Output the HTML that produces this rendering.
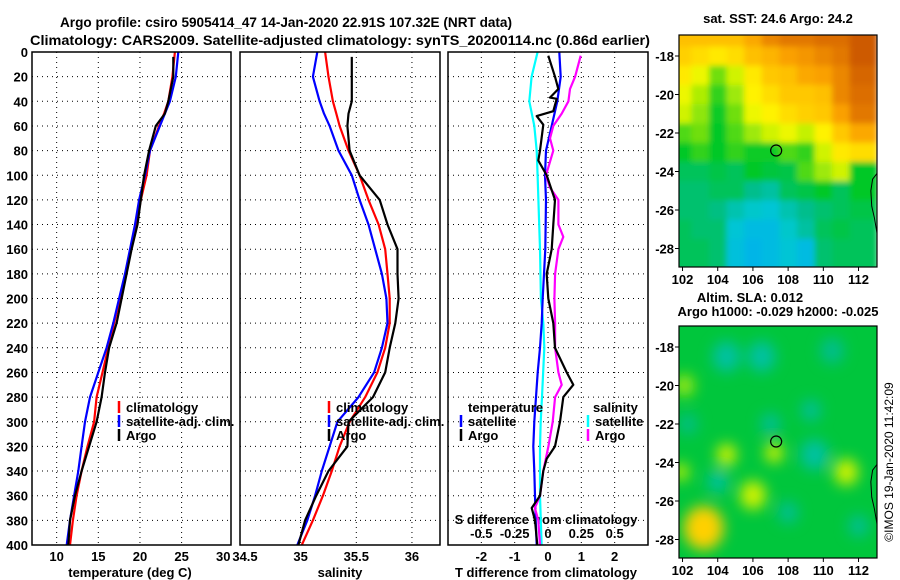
<!DOCTYPE html>
<html><head><meta charset="utf-8">
<style>
html,body{margin:0;padding:0;background:#fff;}
svg{display:block;font-family:"Liberation Sans",Arial,sans-serif;font-weight:bold;}
</style></head>
<body>
<svg id="chart" width="900" height="580" viewBox="0 0 900 580" xmlns="http://www.w3.org/2000/svg">
<defs>
<clipPath id="c1"><rect x="32" y="52" width="199" height="493"/></clipPath>
<clipPath id="c2"><rect x="240" y="52" width="200" height="493"/></clipPath>
<clipPath id="c3"><rect x="448" y="52" width="200" height="493"/></clipPath>
<clipPath id="m1"><rect x="679" y="35" width="198" height="232"/></clipPath>
<clipPath id="m2"><rect x="679" y="326" width="198" height="232"/></clipPath>
<filter id="blur" x="-20%" y="-20%" width="140%" height="140%"><feGaussianBlur stdDeviation="7"/></filter>
<filter id="blur2" x="-5%" y="-5%" width="110%" height="110%"><feGaussianBlur stdDeviation="3"/></filter>
</defs>
<text x="286" y="27" text-anchor="middle" font-size="14" textLength="452" lengthAdjust="spacingAndGlyphs">Argo profile: csiro 5905414_47 14-Jan-2020 22.91S 107.32E (NRT data)</text>
<text x="340" y="45" text-anchor="middle" font-size="14" textLength="620" lengthAdjust="spacingAndGlyphs">Climatology: CARS2009. Satellite-adjusted climatology: synTS_20200114.nc (0.86d earlier)</text>
<g id="g"></g>
</svg>
<script>
// ---- profile data ----
const depths = [0,20,40,50,60,80,100,120,140,160,180,200,220,240,260,280,300,320,340,360,380,400];
const argoDepths = [4,20,40,50,60,80,100,120,140,160,180,200,220,240,260,280,300,320,340,360,380,400];
const tempClim = [24.2,23.9,23.4,22.9,22.3,21.2,20.8,20.1,19.6,18.9,18.3,17.6,16.9,16.2,15.5,14.8,14.5,13.7,13.0,12.4,11.95,11.6];
const tempSat  = [24.6,24.3,23.6,23.0,22.4,21.2,20.6,19.9,19.4,18.8,18.2,17.5,16.8,16.0,15.0,14.0,13.4,13.0,12.6,12.1,11.6,11.2];
const tempArgo = [24.0,24.0,23.4,23.0,21.9,21.1,20.5,20.1,19.7,19.0,18.4,17.8,17.2,16.3,15.8,15.4,14.8,13.9,13.0,12.2,11.6,11.4];
const salClim = [35.22,35.25,35.29,35.32,35.35,35.43,35.53,35.61,35.70,35.76,35.78,35.80,35.80,35.76,35.69,35.58,35.44,35.35,35.28,35.20,35.11,35.01];
const salSat  = [35.15,35.11,35.17,35.21,35.26,35.34,35.46,35.53,35.61,35.67,35.73,35.77,35.78,35.73,35.66,35.52,35.33,35.26,35.19,35.13,35.06,34.97];
const salArgo = [35.46,35.46,35.46,35.43,35.42,35.44,35.53,35.71,35.78,35.87,35.87,35.88,35.85,35.80,35.76,35.65,35.43,35.42,35.25,35.14,35.04,34.98];
// ---- difference data ----
const dTSatDepths = [0,20,40,60,80,100,120,160,200,220,240,260,280,300,320,340,360,380,400];
const dTSat = [0.34,0.38,0.28,0.11,-0.06,-0.09,-0.06,-0.08,-0.16,-0.19,-0.24,-0.31,-0.36,-0.41,-0.44,-0.41,-0.39,-0.37,-0.34];
const dTArgoDepths = [3,20,30,37,38,48,52,59,80,88,100,120,140,160,180,200,220,240,260,270,280,300,320,330,340,360,370,380,400];
const dTArgo = [0.01,0.21,0.31,0.06,0.26,0.16,-0.34,-0.14,-0.24,-0.29,-0.04,0.21,0.16,0.11,-0.04,0.01,0.16,0.21,0.56,0.76,0.46,0.36,0.21,-0.04,-0.14,-0.24,-0.49,-0.39,-0.32];
const dSSatDepths = [0,20,40,60,80,100,160,200,220,240,280,300,320,360,400];
const dSSat = [-0.078,-0.123,-0.14,-0.103,-0.085,-0.078,-0.06,-0.053,-0.035,-0.028,-0.045,-0.055,-0.06,-0.06,-0.048];
const dSArgoDepths = [3,20,30,40,50,60,70,80,100,110,120,140,150,160,180,200,220,240,260,270,280,300,320,340,360,370,380,400];
const dSArgo = [0.245,0.203,0.165,0.153,0.103,0.04,0.015,0.04,-0.015,0.015,0.078,0.078,0.115,0.078,0.053,0.048,0.053,0.053,0.078,0.103,0.053,0.035,0.003,-0.035,-0.06,-0.098,-0.073,-0.06];
// ---- ticks ----
const depthTicks = [0,20,40,60,80,100,120,140,160,180,200,220,240,260,280,300,320,340,360,380,400];
const tempTicks = [10,15,20,25,30];
const salTicks = [34.5,35,35.5,36];
const salTickLabels = ["34.5","35","35.5","36"];
const dTTicks = [-2,-1,0,1,2];
const dSTicks = [-0.5,-0.25,0,0.25,0.5];
const dSTickLabels = ["-0.5","-0.25","0","0.25","0.5"];
const lonTicks = [102,104,106,108,110,112];
const latTicks = [-18,-20,-22,-24,-26,-28];
// ---- map data (normalised colour value 0..1), rows lat -17..-29, cols lon 102..112 ----
const sstLats = [-17,-18,-19,-20,-21,-22,-23,-24,-25,-26,-27,-28,-29];
const sstLons = [102,103,104,105,106,107,108,109,110,111,112];
const sstGrid = [
[.72,.72,.72,.72,.78,.85,.88,.88,.9,.9,.95],
[.68,.65,.62,.65,.72,.75,.8,.82,.85,.88,.95],
[.62,.55,.42,.5,.62,.7,.72,.78,.8,.85,.92],
[.55,.46,.38,.45,.6,.65,.7,.7,.72,.85,.9],
[.5,.44,.36,.42,.55,.6,.65,.68,.7,.8,.88],
[.4,.42,.35,.4,.45,.5,.55,.48,.6,.7,.78],
[.35,.38,.35,.38,.36,.36,.4,.38,.5,.62,.65],
[.3,.3,.32,.3,.35,.33,.32,.4,.45,.5,.35],
[.28,.28,.3,.3,.25,.22,.3,.32,.35,.3,.35],
[.28,.28,.26,.2,.16,.14,.2,.25,.28,.3,.32],
[.3,.28,.28,.14,.1,.1,.16,.22,.3,.32,.3],
[.3,.3,.28,.12,.08,.1,.14,.1,.28,.3,.3],
[.3,.3,.28,.12,.08,.1,.14,.1,.28,.3,.3]];
const slaBlobLon = [103.2,102.1,104.5,106.0,107.2,111.3,101.9,104.5,106.5,107.0,109.5,109.3,104.0,112.0,108.0,110.5,102.3];
const slaBlobLat = [-27.4,-20.0,-23.6,-25.7,-23.5,-24.5,-24.5,-18.5,-18.5,-22.0,-23.6,-21.3,-25.0,-27.3,-26.6,-18.2,-22.0];
const slaBlobVal = [0.68,0.45,0.5,0.5,0.5,0.5,0.47,0.22,0.22,0.24,0.22,0.24,0.22,0.24,0.24,0.25,0.26];
const slaBlobRad = [20,10,10,13,9,12,8,14,14,10,14,10,10,10,10,12,10];
const floatLon = 107.32, floatLat = -22.91;

const NS = "http://www.w3.org/2000/svg";
const G = document.getElementById('g');
function el(tag, attrs, parent) {
  const e = document.createElementNS(NS, tag);
  for (const k in attrs) e.setAttribute(k, attrs[k]);
  (parent || G).appendChild(e);
  return e;
}
const yD = d => 52 + d * 1.2325;
const xT = t => 32 + (t - 7.04) * 8.33;
const xS = s => 245 + (s - 34.5) * 111.3;
const xdT = v => 548 + v * 33.33;
const xdS = v => 548 + v * 133.3;
const lonX = lon => 679 + (lon - 101.8) * 17.6;
const latY = (lat, off) => off + 56 + (-18 - lat) * 19.25;

function txt(x, y, s, size, anchor, name) {
  const t = el('text', {x: x, y: y, 'font-size': size, 'text-anchor': anchor || 'middle'});
  t.textContent = s;
  
  
  return t;
}

const panels = [
  {x0: 32, x1: 231, clip: 'c1', name: 'temperature'},
  {x0: 240, x1: 440, clip: 'c2', name: 'salinity'},
  {x0: 448, x1: 648, clip: 'c3', name: 'difference'}
];
panels.forEach(p => {
  depthTicks.forEach(d => {
    if (d === 0 || d === 400) return;
    const l = el('line', {x1: p.x0, x2: p.x1, y1: yD(d), y2: yD(d), stroke: '#000', 'stroke-width': 1, 'stroke-dasharray': '1,4'});
    
    
  });
});
function vgrid(vals, fx, name) {
  vals.forEach(v => {
    const l = el('line', {x1: fx(v), x2: fx(v), y1: 52, y2: 545, stroke: '#000', 'stroke-width': 1, 'stroke-dasharray': '1,4'});
    
    
  });
}
vgrid(tempTicks.slice(0, 4), xT, 'temperature-gridline-v');
vgrid(salTicks.slice(1), xS, 'salinity-gridline-v');
vgrid(dTTicks, xdT, 'difference-gridline-v');

depthTicks.forEach(d => { txt(28, yD(d) + 5, String(d), 13, 'end', 'depth-tick-label'); });
tempTicks.forEach(t => { txt(xT(t), 561, String(t), 13, 'middle', 'temperature-tick-label'); });
salTicks.forEach((s, i) => { txt(xS(s), 561, salTickLabels[i], 13, 'middle', 'salinity-tick-label'); });
dTTicks.forEach(v => { txt(xdT(v), 561, String(v), 13, 'middle', 'tdiff-tick-label'); });
dSTicks.forEach((v, i) => { txt(xdS(v), 538, dSTickLabels[i], 13, 'middle', 'sdiff-tick-label'); });
txt(130, 577, 'temperature (deg C)', 13, 'middle', 'temperature-axis-title');
txt(340, 577, 'salinity', 13, 'middle', 'salinity-axis-title');
txt(546, 577, 'T difference from climatology', 13, 'middle', 'tdiff-axis-title');
txt(546, 524, 'S difference from climatology', 13, 'middle', 'sdiff-axis-title');

function series(ds, vs, fx, color, clip, name) {
  const pts = ds.map((d, i) => fx(vs[i]).toFixed(1) + ',' + yD(d).toFixed(1)).join(' ');
  const pl = el('polyline', {points: pts, fill: 'none', stroke: color, 'stroke-width': 2.2, 'clip-path': 'url(#' + clip + ')', 'stroke-linejoin': 'round'});
  
  
}
series(depths, tempClim, xT, '#f00', 'c1', 'temperature-climatology-line');
series(depths, tempSat, xT, '#00f', 'c1', 'temperature-satellite-line');
series(argoDepths, tempArgo, xT, '#000', 'c1', 'temperature-argo-line');
series(depths, salClim, xS, '#f00', 'c2', 'salinity-climatology-line');
series(depths, salSat, xS, '#00f', 'c2', 'salinity-satellite-line');
series(argoDepths, salArgo, xS, '#000', 'c2', 'salinity-argo-line');
series(dSSatDepths, dSSat, xdS, '#0ff', 'c3', 'sdiff-satellite-line');
series(dTSatDepths, dTSat, xdT, '#00f', 'c3', 'tdiff-satellite-line');
series(dSArgoDepths, dSArgo, xdS, '#f0f', 'c3', 'sdiff-argo-line');
series(dTArgoDepths, dTArgo, xdT, '#000', 'c3', 'tdiff-argo-line');

panels.forEach(p => {
  const r = el('rect', {x: p.x0, y: 52, width: p.x1 - p.x0, height: 493, fill: 'none', stroke: '#000', 'stroke-width': 1.5});
  
  
});

function legItem(x, y, color, label, name) {
  const m = el('line', {x1: x, x2: x, y1: y - 11, y2: y + 1, stroke: color, 'stroke-width': 2.5});
  
  
  txt(x + 7, y, label, 13, 'start', name + '-label');
}
legItem(119, 412, '#f00', 'climatology', 'legend-temp-climatology');
legItem(119, 426, '#00f', 'satellite-adj. clim.', 'legend-temp-satellite');
legItem(119, 440, '#000', 'Argo', 'legend-temp-argo');
legItem(329, 412, '#f00', 'climatology', 'legend-sal-climatology');
legItem(329, 426, '#00f', 'satellite-adj. clim.', 'legend-sal-satellite');
legItem(329, 440, '#000', 'Argo', 'legend-sal-argo');
txt(468, 412, 'temperature', 13, 'start', 'legend-diff-temperature-heading');
legItem(461, 426, '#00f', 'satellite', 'legend-diff-temp-satellite');
legItem(461, 440, '#000', 'Argo', 'legend-diff-temp-argo');
txt(593, 412, 'salinity', 13, 'start', 'legend-diff-salinity-heading');
legItem(588, 426, '#0ff', 'satellite', 'legend-diff-sal-satellite');
legItem(588, 440, '#f0f', 'Argo', 'legend-diff-sal-argo');

const cmStops = [[0,[0,160,255]],[0.15,[0,200,210]],[0.25,[0,190,140]],[0.35,[0,200,40]],[0.47,[190,240,0]],[0.58,[255,250,0]],[0.7,[255,200,0]],[0.8,[250,160,0]],[0.9,[220,110,0]],[1,[190,70,0]]];
function cmap(v) {
  v = Math.max(0, Math.min(1, v));
  for (let i = 1; i < cmStops.length; i++) {
    if (v <= cmStops[i][0]) {
      const a = cmStops[i-1], b = cmStops[i];
      const f = (v - a[0]) / (b[0] - a[0]);
      const c = a[1].map((x, k) => Math.round(x + (b[1][k] - x) * f));
      return 'rgb(' + c.join(',') + ')';
    }
  }
  return 'rgb(190,70,0)';
}
const sstG = el('g', {'clip-path': 'url(#m1)'});


const sstInner = el('g', {filter: 'url(#blur2)'}, sstG);
sstLats.forEach((lat, r) => {
  sstLons.forEach((lon, c) => {
    const x0 = lonX(lon - 0.5), y0 = latY(lat + 0.5, 0);
    const cell = el('rect', {x: x0 - (c === 0 ? 10 : 0), y: y0 - (r === 0 ? 10 : 0), width: 18.1 + (c === 0 || c === 10 ? 10 : 0), height: 19.75 + (r === 0 || r === 12 ? 10 : 0), fill: cmap(sstGrid[r][c])}, sstInner);
    
    
  });
});
const slaG = el('g', {'clip-path': 'url(#m2)'});


const slaBg = el('rect', {x: 679, y: 326, width: 198, height: 232, fill: cmap(0.33)}, slaG);


const blobG = el('g', {filter: 'url(#blur)'}, slaG);
slaBlobLon.forEach((lon, i) => {
  const b = el('ellipse', {cx: lonX(lon), cy: latY(slaBlobLat[i], 291), rx: slaBlobRad[i], ry: slaBlobRad[i] * 1.1, fill: cmap(slaBlobVal[i])}, blobG);
  
  
});
[0, 291].forEach((off, mi) => {
  const nm = mi === 0 ? 'sst' : 'sla';
  const coast = el('polyline', {points: [[113.05,-24.1],[112.8,-24.4],[112.7,-25.0],[112.75,-25.8],[112.9,-26.4],[113.05,-27.2]].map(p => lonX(p[0]) + ',' + latY(p[1], off)).join(' '), fill: 'none', stroke: '#000', 'stroke-width': 1});
  
  
  const fm = el('circle', {cx: lonX(floatLon), cy: latY(floatLat, off), r: 5.5, fill: 'none', stroke: '#000', 'stroke-width': 1.2});
  
  
  const fr = el('rect', {x: 679, y: 35 + off, width: 198, height: 232, fill: 'none', stroke: '#000', 'stroke-width': 1.2});
  
  
  lonTicks.forEach(lon => {
    txt(lonX(lon), 284 + off, String(lon), 13, 'middle', nm + '-lon-label');
    const tk = el('line', {x1: lonX(lon), x2: lonX(lon), y1: 267 + off, y2: 271 + off, stroke: '#000'});
    
    
  });
  latTicks.forEach(lat => {
    txt(674, latY(lat, off) + 5, String(lat), 13, 'end', nm + '-lat-label');
    const tk = el('line', {x1: 675, x2: 679, y1: latY(lat, off), y2: latY(lat, off), stroke: '#000'});
    
    
  });
});
txt(778, 23, 'sat. SST: 24.6 Argo: 24.2', 13, 'middle', 'sst-map-title');
txt(750, 302, 'Altim. SLA: 0.012', 13, 'middle', 'sla-map-title');
txt(778, 316, 'Argo h1000: -0.029 h2000: -0.025', 13, 'middle', 'sla-map-subtitle');
const imos = txt(0, 0, '\u00A9IMOS 19-Jan-2020 11:42:09', 12, 'middle', 'imos-credit');
imos.setAttribute('transform', 'translate(893,462) rotate(-90)');
imos.setAttribute('font-weight', 'normal');
</script>
</body></html>
